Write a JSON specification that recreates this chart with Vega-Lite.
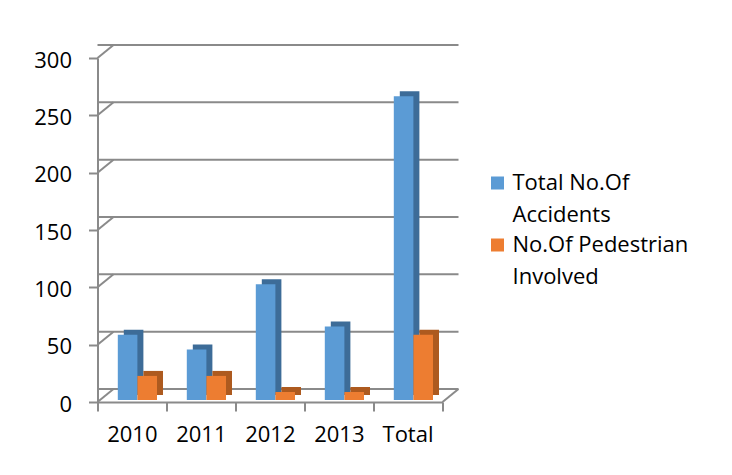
{
  "$schema": "https://vega.github.io/schema/vega-lite/v6.json",
  "width": 345,
  "height": 344,
  "autosize": "none",
  "padding": {"left": 97.5, "top": 58, "right": 289.5, "bottom": 73},
  "background": "#ffffff",
  "config": {
    "view": {"stroke": null},
    "font": "Open Sans",
    "style": {"guide-label": {"lineHeight": 32}}
  },
  "datasets": {
    "accidents": [
      {"year": "2010", "series": "Total No.Of Accidents", "count": 57},
      {"year": "2011", "series": "Total No.Of Accidents", "count": 44},
      {"year": "2012", "series": "Total No.Of Accidents", "count": 101},
      {"year": "2013", "series": "Total No.Of Accidents", "count": 64},
      {"year": "Total", "series": "Total No.Of Accidents", "count": 265},
      {"year": "2010", "series": "No.Of Pedestrian Involved", "count": 21},
      {"year": "2011", "series": "No.Of Pedestrian Involved", "count": 21},
      {"year": "2012", "series": "No.Of Pedestrian Involved", "count": 7},
      {"year": "2013", "series": "No.Of Pedestrian Involved", "count": 7},
      {"year": "Total", "series": "No.Of Pedestrian Involved", "count": 57}
    ],
    "gridTicks": [
      {"v": 0}, {"v": 50}, {"v": 100}, {"v": 150}, {"v": 200}, {"v": 250}, {"v": 300}
    ]
  },
  "layer": [
    {
      "data": {"name": "gridTicks"},
      "mark": {"type": "rule", "xOffset": 16, "x2Offset": 16, "yOffset": -13, "color": "#8a8a8a", "strokeWidth": 2},
      "encoding": {
        "y": {
          "field": "v",
          "type": "quantitative",
          "scale": {"domain": [0, 300], "nice": false},
          "axis": {
            "title": null,
            "values": [0, 50, 100, 150, 200, 250, 300],
            "grid": false,
            "domainColor": "#8a8a8a",
            "domainWidth": 2,
            "tickColor": "#8a8a8a",
            "tickWidth": 2,
            "tickSize": 9,
            "labelFont": "Open Sans",
            "labelFontSize": 22,
            "labelColor": "#000000",
            "labelPadding": 17,
            "labelOffset": 2
          }
        }
      }
    },
    {
      "data": {"name": "gridTicks"},
      "mark": {"type": "rule", "x2Offset": 16, "y2Offset": -13, "color": "#8a8a8a", "strokeWidth": 2},
      "encoding": {
        "x": {"datum": "2010", "type": "nominal", "bandPosition": 0},
        "x2": {"datum": "2010", "bandPosition": 0},
        "y": {"field": "v", "type": "quantitative"},
        "y2": {"field": "v"}
      }
    },
    {
      "data": {"name": "gridTicks"},
      "transform": [{"filter": "datum.v == 0"}],
      "mark": {"type": "rule", "x2Offset": 16, "y2Offset": -13, "color": "#8a8a8a", "strokeWidth": 2},
      "encoding": {
        "x": {"datum": "Total", "type": "nominal", "bandPosition": 1},
        "x2": {"datum": "Total", "bandPosition": 1},
        "y": {"field": "v", "type": "quantitative"},
        "y2": {"field": "v"}
      }
    },
    {
      "data": {"name": "accidents"},
      "transform": [{"filter": "datum.series == 'Total No.Of Accidents'"}],
      "mark": {"type": "bar", "width": {"band": 0.284}, "xOffset": 1.6, "yOffset": -7, "y2Offset": -7, "color": "#3d6c98"},
      "encoding": {
        "x": {
          "field": "year",
          "type": "nominal",
          "sort": null,
          "scale": {"domain": ["2010", "2011", "2012", "2013", "Total"], "paddingInner": 0, "paddingOuter": 0},
          "axis": {
            "title": null,
            "labelAngle": 0,
            "tickBand": "extent",
            "domainColor": "#8a8a8a",
            "domainWidth": 2,
            "tickColor": "#8a8a8a",
            "tickWidth": 2,
            "tickSize": 9,
            "labelFont": "Open Sans",
            "labelFontSize": 22,
            "labelColor": "#000000",
            "labelPadding": 23,
            "labelOffset": 25
          }
        },
        "y": {"field": "count", "type": "quantitative"}
      }
    },
    {
      "data": {"name": "accidents"},
      "transform": [{"filter": "datum.series == 'Total No.Of Accidents'"}],
      "mark": {"type": "bar", "width": {"band": 0.284}, "xOffset": -4.4, "yOffset": -2, "y2Offset": -2},
      "encoding": {
        "x": {"field": "year", "type": "nominal", "sort": null},
        "y": {"field": "count", "type": "quantitative"},
        "color": {
          "field": "series",
          "type": "nominal",
          "scale": {
            "domain": ["Total No.Of Accidents", "No.Of Pedestrian Involved"],
            "range": ["#5b9bd5", "#ed7d31"]
          },
          "legend": {
            "orient": "none",
            "legendX": 389,
            "legendY": 114,
            "title": null,
            "symbolType": "square",
            "symbolSize": 169,
            "symbolStrokeWidth": 0,
            "labelFont": "Open Sans",
            "labelFontSize": 22,
            "labelColor": "#000000",
            "labelLimit": 400,
            "labelOffset": 4,
            "rowPadding": 8,
            "labelExpr": "datum.label == 'Total No.Of Accidents' ? ['Total No.Of', 'Accidents'] : ['No.Of Pedestrian', 'Involved']"
          }
        }
      }
    },
    {
      "data": {"name": "accidents"},
      "transform": [{"filter": "datum.series == 'No.Of Pedestrian Involved'"}],
      "mark": {"type": "bar", "width": {"band": 0.284}, "xOffset": 21.2, "yOffset": -7, "y2Offset": -7, "color": "#ad5a1f"},
      "encoding": {
        "x": {"field": "year", "type": "nominal", "sort": null},
        "y": {"field": "count", "type": "quantitative"}
      }
    },
    {
      "data": {"name": "accidents"},
      "transform": [{"filter": "datum.series == 'No.Of Pedestrian Involved'"}],
      "mark": {"type": "bar", "width": {"band": 0.284}, "xOffset": 15.2, "yOffset": -2, "y2Offset": -2},
      "encoding": {
        "x": {"field": "year", "type": "nominal", "sort": null},
        "y": {"field": "count", "type": "quantitative"},
        "color": {"field": "series", "type": "nominal"}
      }
    }
  ]
}
